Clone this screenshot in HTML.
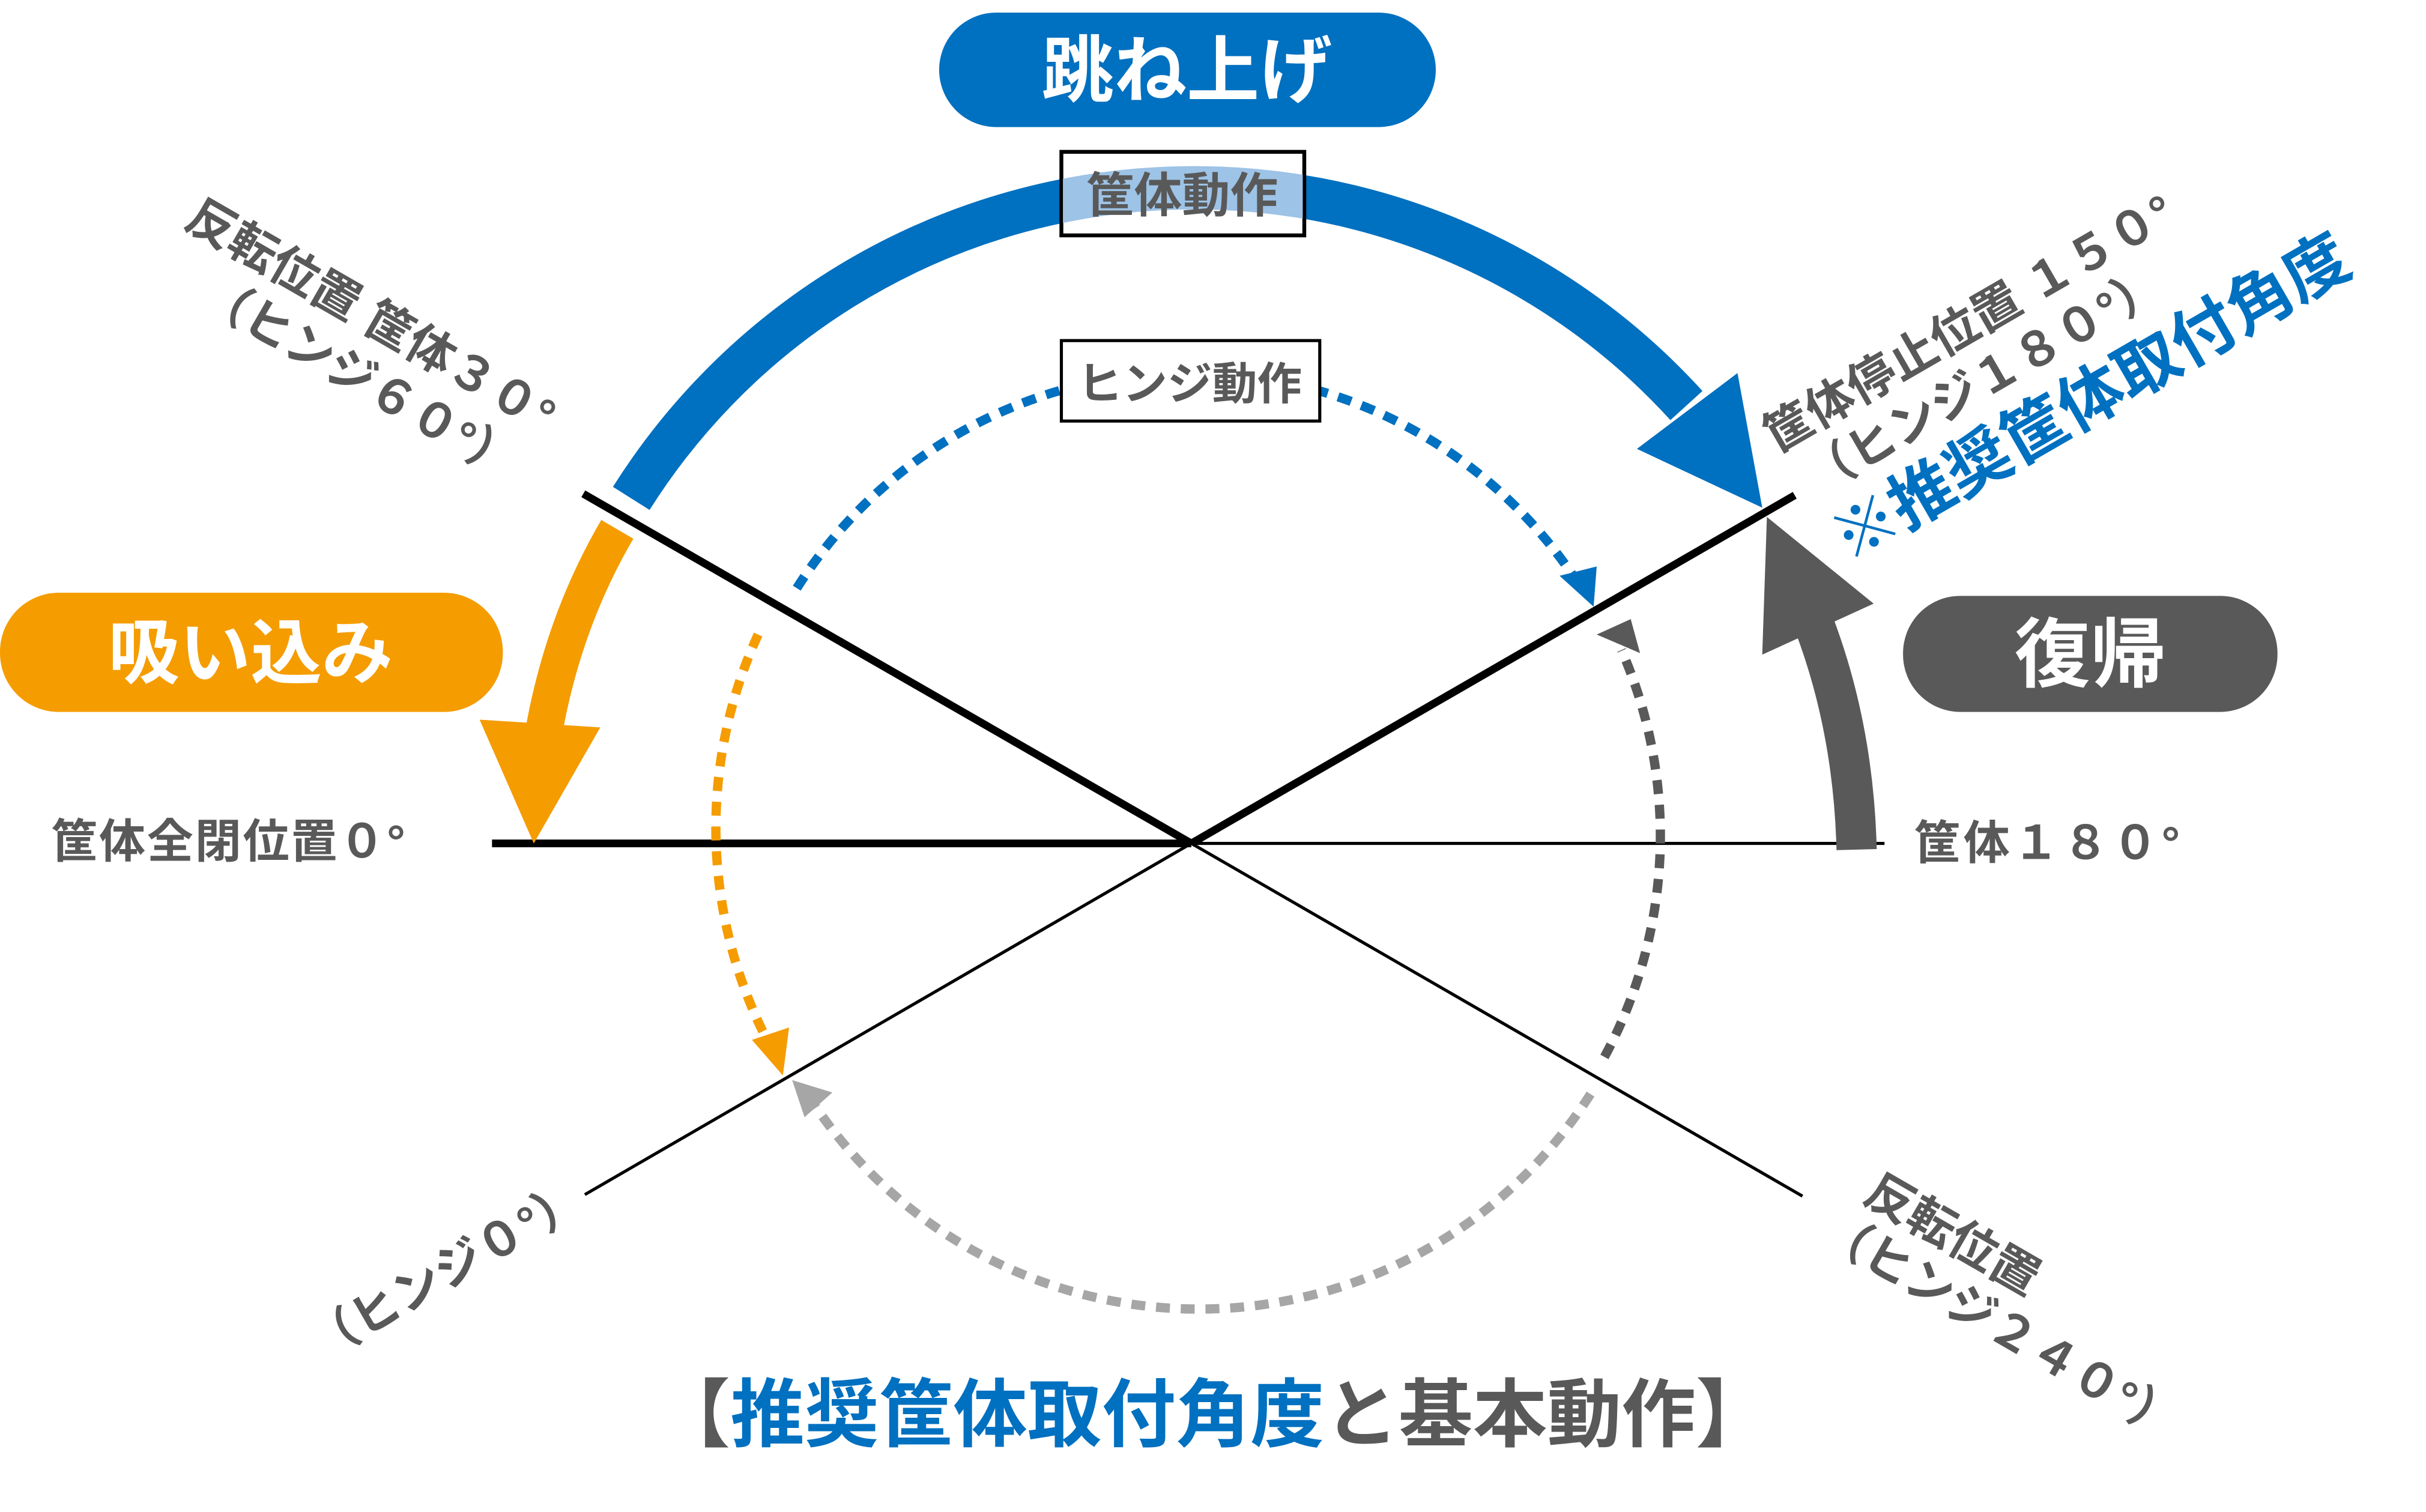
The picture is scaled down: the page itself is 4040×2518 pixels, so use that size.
<!DOCTYPE html>
<html><head><meta charset="utf-8"><style>
html,body{margin:0;padding:0;background:#fff;width:4040px;height:2518px;overflow:hidden}
svg{display:block}
text{font-family:"Liberation Sans","Noto Sans CJK JP",sans-serif;font-weight:bold}
</style></head><body>
<svg width="4040" height="2518" viewBox="0 0 1568 977" xmlns="http://www.w3.org/2000/svg">
<defs><clipPath id="bx"><rect x="687" y="99" width="155" height="52"/></clipPath></defs>
<line x1="318" y1="545" x2="770" y2="545" stroke="#000" stroke-width="5"/>
<line x1="770" y1="545" x2="1218" y2="545" stroke="#000" stroke-width="2"/>
<line x1="377" y1="319" x2="770" y2="545" stroke="#000" stroke-width="5"/>
<line x1="770" y1="545" x2="1165" y2="773" stroke="#000" stroke-width="2"/>
<line x1="770" y1="545" x2="1160" y2="320" stroke="#000" stroke-width="5"/>
<line x1="770" y1="545" x2="378" y2="772" stroke="#000" stroke-width="2"/>

<path d="M515,380 A300,300 0 0 1 1022,380" fill="none" stroke="#0070c0" stroke-width="6" stroke-dasharray="9,7"/>
<polygon points="1008,372 1032,366 1030,392" fill="#0070c0"/>
<path d="M490,410 A300,300 0 0 0 500,680" fill="none" stroke="#f59c00" stroke-width="6" stroke-dasharray="9,7"/>
<polygon points="486,672 510,664 506,695" fill="#f59c00"/>
<path d="M1037,683 A300,300 0 0 0 1048,420" fill="none" stroke="#595959" stroke-width="6" stroke-dasharray="9,7"/>
<polygon points="1032,410 1054,400 1060,422" fill="#595959"/>
<path d="M1028,707 A300,300 0 0 1 525,712" fill="none" stroke="#a6a6a6" stroke-width="6" stroke-dasharray="9,7"/>
<polygon points="512,698 538,706 520,722" fill="#a6a6a6"/>

<path d="M408,322 A430,430 0 0 1 1090,262" fill="none" stroke="#0070c0" stroke-width="28"/>
<polygon points="1058,290 1123,241 1139,328" fill="#0070c0"/>
<path d="M399,342 Q365,400 352,470" fill="none" stroke="#f59c00" stroke-width="24"/>
<polygon points="310,465 388,470 345,545" fill="#f59c00"/>
<path d="M1200,549 Q1198,470 1172,402" fill="none" stroke="#595959" stroke-width="26"/>
<polygon points="1139,423 1211,390 1142,334" fill="#595959"/>

<rect x="607" y="8" width="321" height="74" rx="37" fill="#0070c0"/>
<text x="767" y="62" font-size="47" fill="#fff" text-anchor="middle">跳ね上げ</text>
<rect x="0" y="383" width="325" height="77" rx="38" fill="#f59c00"/>
<text x="162" y="438" font-size="46" fill="#fff" text-anchor="middle">吸い込み</text>
<rect x="1230" y="385" width="242" height="75" rx="37" fill="#595959"/>
<text x="1351" y="440" font-size="49" fill="#fff" text-anchor="middle">復帰</text>

<rect x="686" y="98" width="157" height="54" fill="#fff" stroke="#000" stroke-width="2.5"/>
<path clip-path="url(#bx)" d="M408,322 A430,430 0 0 1 1090,262" fill="none" stroke="#9dc3e6" stroke-width="28"/>
<text x="764" y="137" font-size="31" fill="#595959" text-anchor="middle">筐体動作</text>
<rect x="686" y="220" width="167" height="52" fill="#fff" stroke="#000" stroke-width="2"/>
<text x="769" y="258" font-size="29" fill="#595959" text-anchor="middle">ヒンジ動作</text>

<text x="33" y="554" font-size="30" fill="#595959" letter-spacing="1">筐体全閉位置０°</text>
<text x="1237" y="555" font-size="30" fill="#595959" letter-spacing="2">筐体１８０°</text>
<text transform="translate(118,146) rotate(30)" font-size="31" fill="#595959">反転位置 筐体３０°</text>
<text transform="translate(128,196) rotate(30)" font-size="31" fill="#595959">（ヒンジ６０°）</text>
<text transform="translate(1148,293) rotate(-30)" font-size="31" fill="#595959">筐体停止位置 １５０°</text>
<text transform="translate(1175,320) rotate(-30)" font-size="31" fill="#595959">（ヒンジ１８０°）</text>
<text transform="translate(1195,364) rotate(-30)" font-size="42" fill="#0070c0">※推奨筐体取付角度</text>
<text transform="translate(208,880) rotate(-30)" font-size="31" fill="#595959">（ヒンジ０°）</text>
<text transform="translate(1203,776) rotate(30)" font-size="31" fill="#595959">反転位置</text>
<text transform="translate(1175,801) rotate(30)" font-size="31" fill="#595959">（ヒンジ２４０°）</text>

<text x="784" y="931" font-size="48" fill="#595959" text-anchor="middle">【<tspan fill="#0070c0">推奨筐体取付角度</tspan>と基本動作】</text>
</svg>
</body></html>
